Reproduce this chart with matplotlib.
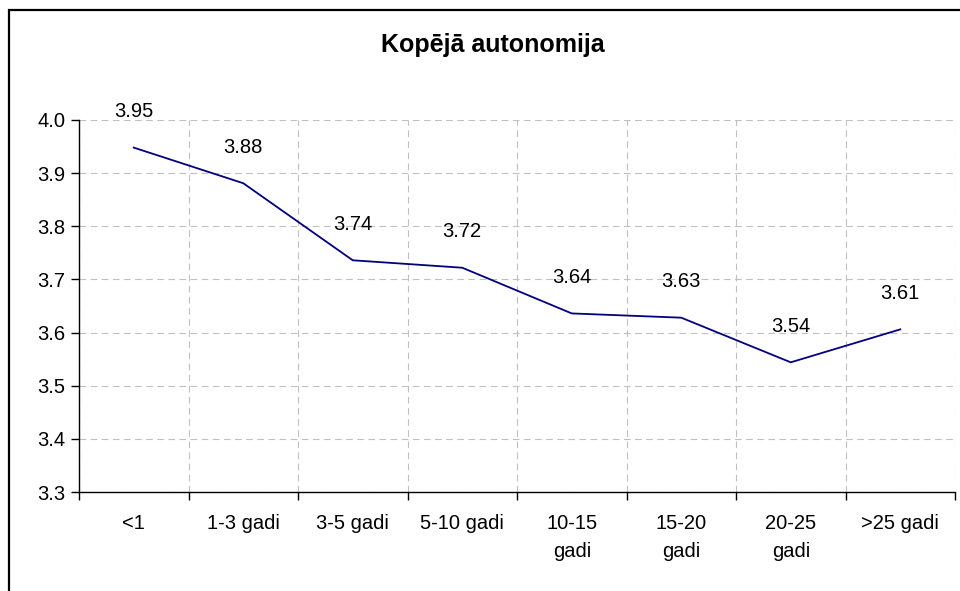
import matplotlib.pyplot as plt
import numpy as np
from matplotlib.patches import Rectangle

plt.rcParams["font.family"] = ["Liberation Sans", "DejaVu Sans"]

categories = ["<1", "1-3 gadi", "3-5 gadi", "5-10 gadi",
              "10-15\ngadi", "15-20\ngadi", "20-25\ngadi", ">25 gadi"]
values = [3.948, 3.881, 3.736, 3.722, 3.636, 3.628, 3.544, 3.606]
y_ticks = [3.3, 3.4, 3.5, 3.6, 3.7, 3.8, 3.9, 4.0]

figure = plt.figure(figsize=(9.6, 5.91), dpi=100)
axs = figure.add_axes([0.0823, 0.1675, 0.9125, 0.6295])

x = np.arange(len(categories))
axs.plot(x, values, color="#000080", linewidth=1.3)

for xi, v in zip(x, values):
    axs.annotate(f"{v:.2f}", (xi, v), xytext=(0, 26), textcoords="offset points",
                 ha="center", va="center", fontsize=14.5)

axs.set_xlim(-0.5, len(categories) - 0.5)
axs.set_ylim(3.3, 4.0)
axs.set_yticks(y_ticks)
axs.set_yticklabels([f"{t:.1f}" for t in y_ticks], fontsize=14.5)
axs.set_xticks(x)
axs.set_xticklabels(categories, fontsize=14.5, linespacing=1.6, va="top")
axs.set_xticks(np.arange(-0.5, len(categories)), minor=True)
axs.tick_params(axis="x", which="major", length=0, pad=16)
axs.tick_params(axis="x", which="minor", length=6, width=1, direction="out")
axs.tick_params(axis="y", length=6, width=1, direction="out", pad=4)

axs.grid(axis="x", which="minor", color="#c0c0c0", linestyle=(0, (6, 4)), linewidth=0.8)
axs.grid(axis="y", which="major", color="#c0c0c0", linestyle=(0, (6, 4)), linewidth=0.8)
axs.set_axisbelow(True)

axs.spines["top"].set_visible(False)
axs.spines["right"].set_visible(False)
axs.spines["left"].set_linewidth(1)
axs.spines["bottom"].set_linewidth(1)

figure.text(0.513, 0.924, "Kopējā autonomija", ha="center", va="center",
            fontsize=18, fontweight="bold")

# outer chart border (cropped at right and bottom)
figure.patches.append(Rectangle((9 / 960, -0.05), 1.1, 1 - 10 / 591 + 0.05,
                                transform=figure.transFigure, fill=False,
                                edgecolor="black", linewidth=1.6))

figure.savefig("out.png", dpi=100)
